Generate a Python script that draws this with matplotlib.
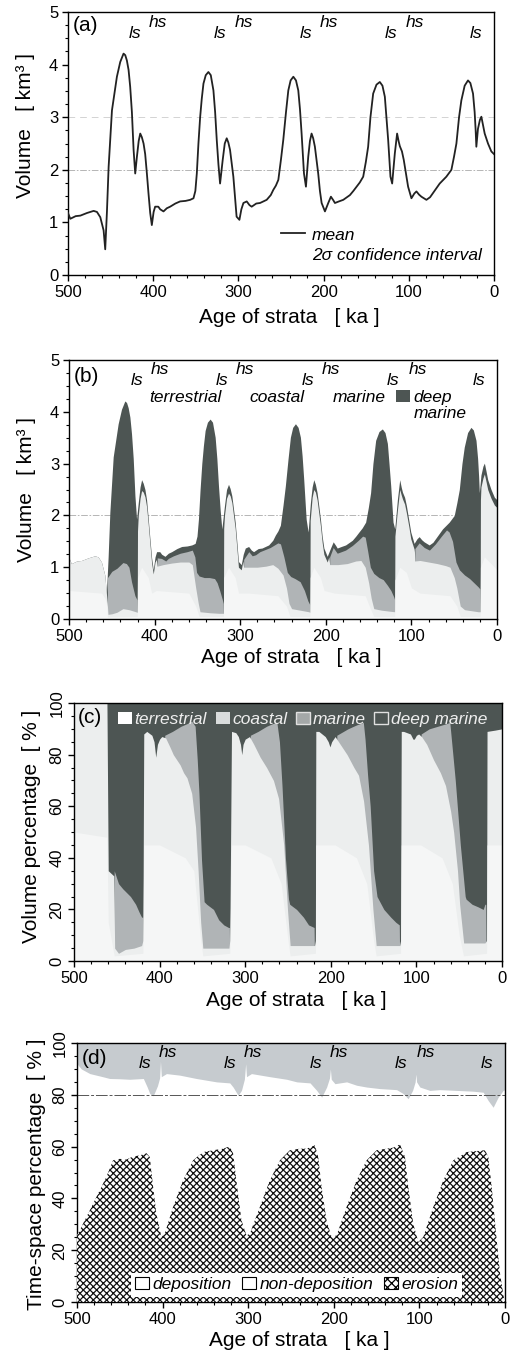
import numpy as np
import matplotlib
matplotlib.use('Agg')
import matplotlib.pyplot as plt
from matplotlib.patches import Patch
from matplotlib.lines import Line2D
from matplotlib.ticker import MultipleLocator

plt.rcParams['font.family'] = ['Liberation Sans', 'DejaVu Sans']
plt.rcParams['hatch.linewidth'] = 0.9

# ---- data (age in ka, value) ----
# (a) mean volume [km3]
mean_a = [(500, 1.18), (497.3, 1.07), (491, 1.12), (485.5, 1.13), (477.7, 1.18), (469.9, 1.22),
          (466.0, 1.20), (462.1, 1.10), (458.2, 0.85), (456.3, 0.49), (454.3, 1.2), (452.3, 2.06),
          (448.4, 3.13), (442.6, 3.77), (438.7, 4.05), (434.8, 4.21), (432.8, 4.18), (430.9, 4.08),
          (428.9, 3.9), (427.0, 3.58), (425.0, 3.1), (423.0, 2.38), (421.1, 1.93), (419.1, 2.25),
          (417.0, 2.55), (415.2, 2.69), (413.3, 2.62), (411.3, 2.50), (409.4, 2.3), (407.4, 1.93),
          (405.5, 1.55), (403.5, 1.18), (401.6, 0.95), (399.5, 1.2), (397.7, 1.30), (394, 1.3),
          (391.8, 1.25), (387.9, 1.21), (384, 1.27), (380.1, 1.30), (374, 1.36), (368.4, 1.40),
          (362, 1.41), (356.6, 1.43), (352.7, 1.46), (350.5, 1.6), (348.8, 1.93), (346.9, 2.5),
          (344.9, 3.0), (343.0, 3.35), (341.0, 3.64), (338.3, 3.8), (335.2, 3.86), (332.4, 3.8),
          (329.3, 3.51), (327.3, 3.1), (325.4, 2.57), (323.4, 2.1), (321.5, 1.74), (318.4, 2.19),
          (316, 2.5), (313.7, 2.60), (311.8, 2.52), (309.8, 2.38), (305.9, 1.87), (304, 1.5),
          (302.1, 1.11), (298.8, 1.05), (296.5, 1.25), (294.1, 1.37), (290.2, 1.40), (287, 1.33),
          (284.4, 1.30), (279, 1.36), (274.6, 1.37), (266.8, 1.43), (262, 1.52), (259.0, 1.62),
          (256, 1.7), (253.1, 1.81), (250.0, 2.2), (247.3, 2.57), (244.1, 3.1), (241.4, 3.51),
          (238.7, 3.7), (235.5, 3.77), (232.4, 3.7), (229.7, 3.51), (227.7, 3.15), (225.8, 2.69),
          (223.0, 1.93), (220.7, 1.68), (218.0, 2.25), (216, 2.55), (214.1, 2.69), (212.2, 2.6),
          (210.2, 2.44), (206.3, 1.93), (204.3, 1.6), (202.3, 1.37), (198.4, 1.21), (194.5, 1.37),
          (191.4, 1.49), (188.5, 1.42), (186.7, 1.37), (182, 1.4), (176.9, 1.43), (169.1, 1.52),
          (165, 1.6), (161.3, 1.68), (157.5, 1.76), (153.5, 1.87), (150.4, 2.15), (147.7, 2.44),
          (145.0, 3.0), (141.8, 3.45), (137.9, 3.62), (134.0, 3.67), (130.9, 3.6), (128.1, 3.39),
          (126.2, 3.0), (124.2, 2.57), (121.5, 1.87), (119.5, 1.74), (116.4, 2.31), (113.7, 2.69),
          (112, 2.55), (110.5, 2.45), (108, 2.35), (105.9, 2.19), (103, 1.9), (100.8, 1.68),
          (96.9, 1.46), (93.5, 1.55), (91.0, 1.59), (88, 1.53), (85.2, 1.49), (79.3, 1.43),
          (75, 1.48), (71.5, 1.56), (63.7, 1.74), (55.9, 1.87), (50.0, 2.00), (46.9, 2.25),
          (44.1, 2.50), (41.0, 3.0), (38.3, 3.32), (34.4, 3.6), (30.5, 3.70), (27.7, 3.65),
          (24.6, 3.45), (22.7, 3.1), (21.5, 2.75), (20.7, 2.44), (18.8, 2.78), (16.5, 2.95),
          (14.8, 3.01), (12.8, 2.85), (10.9, 2.69), (7.0, 2.50), (3.1, 2.35), (0, 2.30)]

# (b) cumulative tops of the facies volumes [km3]; deep marine tops out at mean_a
terr_b = [(500, 0.55), (462, 0.5), (458, 0.4), (456.3, 0.3), (455, 0.04), (420.3, 0.05), (420.0, 0.8),
          (415.2, 1.0), (407.4, 0.8), (403.5, 0.5), (398, 0.55), (360, 0.5), (352, 0.25), (348, 0.05),
          (319.6, 0.05), (319.3, 0.8), (313.7, 1.0), (305.9, 0.8), (302, 0.5), (290, 0.5), (256, 0.45),
          (246, 0.25), (242, 0.05), (218.6, 0.05), (218.3, 0.8), (214.1, 1.0), (206.3, 0.8), (202, 0.55),
          (190, 0.5), (154, 0.45), (148, 0.2), (144, 0.05), (119.6, 0.05), (119.3, 0.75), (113.7, 1.0),
          (105.9, 0.9), (100, 0.6), (90, 0.5), (55, 0.45), (47, 0.25), (43, 0.05), (19.7, 0.05),
          (19.4, 1.0), (14.8, 1.2), (0, 0.95)]
coast_b = [(500, 1.18), (497.3, 1.07), (491, 1.12), (485.5, 1.13), (477.7, 1.18), (469.9, 1.22),
           (466.0, 1.20), (462.1, 1.10), (458.2, 0.85), (456.3, 0.49), (455.3, 0.3), (454.5, 0.09),
           (450, 0.10), (444, 0.13), (437, 0.20), (430, 0.18), (424, 0.15), (420.3, 0.13), (420.0, 1.7),
           (419.1, 2.0), (417.0, 2.33), (415.2, 2.48), (413.3, 2.45), (411.3, 2.36), (409.4, 2.17),
           (407.4, 1.82), (405.5, 1.45), (403.5, 1.08), (401.6, 0.87), (399.5, 1.1), (398, 1.15),
           (397, 1.02), (390, 1.05), (380, 1.08), (370, 1.1), (360, 1.1), (356, 1.05), (352, 0.6),
           (349, 0.3), (347, 0.14), (335, 0.12), (325, 0.11), (319.6, 0.11), (319.3, 1.75), (318.4, 2.0),
           (316, 2.33), (313.7, 2.43), (311.8, 2.38), (309.8, 2.25), (305.9, 1.75), (304, 1.38),
           (302.1, 1.0), (298.8, 0.95), (297, 1.12), (296, 1.0), (290, 1.0), (280, 1.0), (270, 1.02),
           (262, 1.05), (256, 0.98), (250, 0.85), (246, 0.6), (243, 0.3), (240, 0.2), (230, 0.17),
           (220, 0.14), (218.6, 0.13), (218.3, 1.9), (216, 2.35), (214.1, 2.5), (212.2, 2.45),
           (210.2, 2.3), (206.3, 1.8), (204.3, 1.48), (202.3, 1.25), (198.4, 1.1), (196.5, 1.2),
           (195.5, 1.05), (186, 1.05), (175, 1.07), (165, 1.12), (159, 1.13), (154, 1.0), (150, 0.7),
           (147, 0.4), (144, 0.2), (135, 0.17), (125, 0.15), (119.6, 0.14), (119.3, 1.6), (116.4, 2.1),
           (113.7, 2.5), (112, 2.4), (110.5, 2.32), (108, 2.22), (105.9, 2.05), (103, 1.78),
           (100.8, 1.55), (96.9, 1.35), (96.5, 1.3), (96, 1.12), (90, 1.13), (80, 1.1), (70, 1.07),
           (60, 1.03), (55, 1.0), (50, 0.8), (47, 0.6), (43, 0.25), (38, 0.18), (30, 0.16), (22, 0.14),
           (19.7, 0.14), (19.4, 2.3), (18.8, 2.55), (16.5, 2.72), (14.8, 2.8), (12.8, 2.65),
           (10.9, 2.5), (7.0, 2.33), (3.1, 2.2), (0, 2.15)]
marine_b = [(500, 0), (455.6, 0), (455.0, 0.8), (450, 0.92), (444, 0.98), (437, 1.09), (433, 1.07),
            (430, 1.0), (427, 0.72), (423, 0.45), (420.5, 0.37), (420.2, 0), (397.5, 0), (397, 1.18),
            (392, 1.17), (387, 1.12), (384, 1.17), (378, 1.22), (370, 1.27), (362, 1.3), (356, 1.33),
            (353, 1.2), (351, 0.9), (348, 0.83), (342, 0.8), (336, 0.8), (330, 0.78), (327, 0.7),
            (324, 0.55), (321, 0.38), (319.8, 0.3), (319.5, 0), (296.3, 0), (296, 1.15), (290, 1.3),
            (286, 1.22), (282, 1.24), (277, 1.3), (265, 1.38), (256, 1.47), (253, 1.45), (249, 1.2),
            (245, 0.9), (241, 0.82), (236, 0.78), (230, 0.72), (225, 0.55), (221, 0.35), (218.8, 0.28),
            (218.5, 0), (195.8, 0), (195.5, 1.2), (191.4, 1.38), (186.7, 1.27), (177, 1.33), (169, 1.42),
            (162, 1.52), (157, 1.6), (154, 1.58), (151, 1.3), (148, 1.0), (144, 0.88), (138, 0.8),
            (133, 0.76), (128, 0.65), (124, 0.55), (120.5, 0.42), (119.8, 0.38), (119.5, 0), (96.3, 0),
            (96, 1.36), (91, 1.47), (85, 1.38), (79, 1.33), (72, 1.45), (65, 1.6), (59, 1.72), (56, 1.68),
            (52, 1.5), (48, 1.1), (44, 0.95), (38, 0.85), (32, 0.78), (27, 0.7), (22, 0.62), (20, 0.58),
            (19.6, 0), (0, 0)]

# (c) cumulative tops of the volume percentages [%]; deep marine fills to 100
terr_c = [(500, 50), (461.5, 48), (460, 15), (453, 2), (419.5, 3), (418.5, 45), (400, 45), (370, 40),
          (360, 35), (352, 8), (349.5, 2), (318, 3), (316, 45), (300, 45), (270, 40), (258, 30), (250, 8),
          (247.5, 2), (218, 3), (217.5, 45), (195, 45), (170, 40), (158, 30), (150, 8), (147, 2),
          (118.5, 3), (117.7, 45), (95, 45), (70, 40), (58, 30), (50, 10), (45, 2), (18, 3), (17.5, 45),
          (0, 45)]
coast_c = [(500, 100), (461.5, 100), (460, 35), (453.5, 33), (452.5, 5), (448, 3), (440, 4.5), (430, 5),
           (421, 6), (419.5, 8), (418.5, 88), (415, 89), (409, 87.5), (406.5, 85), (404.5, 79),
           (402.5, 84), (400, 86), (397.5, 87), (393, 86.5), (388, 83), (384, 80), (380, 78), (376, 76),
           (372, 73), (368, 71), (362.5, 65), (358, 52), (355, 35), (352, 15), (349.5, 5), (340, 5),
           (330, 5), (319, 5), (318, 8), (316, 89), (311, 88.5), (308, 87), (305.5, 84), (304, 80),
           (302.5, 84), (300, 86), (295, 87), (290, 84), (282.5, 79), (275, 75), (267, 70), (261, 63),
           (255, 45), (250.6, 20), (247.5, 6), (235, 6), (225, 6), (219, 6), (218, 8), (217.5, 89),
           (214, 89), (206.5, 87), (203, 85), (201, 83), (199, 85), (195, 87), (189, 84), (181, 80),
           (173, 75), (167.6, 72), (161.7, 62), (156, 45), (150.8, 20), (147, 6), (135, 6), (125, 6),
           (119.6, 6), (118.5, 8), (117.7, 89), (115, 89), (107, 88), (104, 86), (102.5, 86), (100, 87.5),
           (97.4, 88), (94, 87), (88, 84), (80, 78), (72, 73), (66, 68), (60, 58), (56.5, 50), (52, 35),
           (49.5, 22), (44.8, 7), (35, 7), (25, 7), (20, 7), (18, 8), (17.5, 89), (8, 89.5), (0, 90)]
marine_c = [(500, 0), (454, 0), (453, 35), (448, 30), (443, 28), (440, 27), (434, 25), (428, 22), (424, 19),
            (421, 17), (419.5, 17), (419, 0), (395, 0), (394, 87.5), (385, 89), (375, 91), (368, 92),
            (362.5, 93), (358.5, 91), (356, 78), (354, 65), (351, 39), (348, 23), (345, 22), (337, 20),
            (331, 16), (325, 14), (319.5, 13), (318.5, 13), (318, 0), (295, 0), (294, 87.5), (285, 89),
            (275, 91), (268, 92), (263, 92.5), (260, 85), (257, 68), (253, 40), (249.4, 24), (248, 22),
            (240, 20), (232, 17), (226, 14), (219.5, 13), (219, 0), (194, 0), (193, 87.5), (180, 90),
            (170, 91.5), (162, 92.5), (160, 86), (157, 72), (154, 60), (150, 35), (146, 25), (138, 20),
            (130, 17), (124, 15), (120, 14), (119.5, 0), (95, 0), (94.5, 88), (85, 90), (75, 91), (65, 92),
            (61, 92.5), (58, 82), (54.6, 70), (48.7, 45), (43, 25), (42, 24), (35, 22), (28, 21), (22, 20),
            (20, 22), (19, 22), (18.5, 0), (0, 0)]

# (d) time-space percentages [%]: erosion top, non-deposition top (deposition above)
erosion_d = [(500, 25.7), (489, 32.8), (477.4, 40.5), (465.7, 48.3), (457.9, 54.7), (450.1, 55.3),
             (442.3, 55), (434.5, 56.2), (426.7, 56.6), (419, 57.5), (415, 56), (411.1, 44.5), (407.2, 34),
             (401.4, 25), (397.5, 26.4), (387.8, 36.7), (376.1, 47), (364.4, 54.7), (352.7, 57.9),
             (341, 58.6), (329.3, 59.2), (321.5, 60.1), (317.6, 57.3), (312.9, 44.4), (307.9, 31.5),
             (302, 25.7), (298.1, 26.4), (286.4, 36.7), (274.7, 47), (263, 54.7), (251.4, 58.6),
             (239.7, 59.2), (231.9, 59.2), (222.1, 60.5), (218.2, 56), (214.3, 44.4), (208.5, 31.5),
             (202.6, 25.1), (196.8, 25.7), (185.1, 36.7), (173.4, 47), (161.7, 54.7), (150, 58.6),
             (138.3, 59.2), (130.5, 59.6), (122.7, 60.9), (116.9, 56), (113, 44.4), (107.2, 30.2),
             (101.3, 23.2), (95.5, 25.1), (83.8, 36.7), (72.1, 47), (60.4, 54.7), (44.8, 57.9),
             (33.1, 58.3), (23.4, 58.6), (19.5, 56), (15.6, 44.4), (9.7, 23.8), (5.8, 10.9), (1.2, 1.3),
             (0, 0)]
nondep_d = [(500, 92), (495, 90), (485, 88.2), (470, 87), (461.8, 86.3), (450, 86.2), (438.4, 86),
            (422.5, 86.3), (418, 83), (415, 80.5), (411, 79.6), (406, 83.5), (403.5, 86.5), (402.5, 93),
            (401.5, 87), (395.5, 88.2), (380, 87.6), (360.5, 86.3), (337, 85), (321.6, 84.6), (317.7, 83),
            (311.8, 79.8), (307.9, 81.7), (304.5, 86), (303, 92), (302, 87), (296.2, 88.2), (274.7, 87),
            (255, 86), (243.3, 85), (227.8, 84.6), (220, 81.7), (214.2, 79.1), (208.4, 83), (205, 86.5),
            (204, 90), (203, 86), (198.7, 84.3), (185, 85), (173.4, 83.7), (161.7, 83), (146.2, 82.4),
            (126.7, 82), (119, 80.5), (113.2, 78.5), (108, 81.7), (105, 85), (104.2, 88), (103.3, 85),
            (99.5, 83), (87.8, 81.7), (76.2, 82), (56.7, 81.7), (37.2, 81.4), (25.5, 81), (19.7, 77.8),
            (13.9, 75.2), (8, 79.1), (2.2, 81.7), (0, 82)]

# lowstand / highstand marker ages
ls_age = [421, 321, 221, 121, 21]
hs_age = [394, 294, 194, 93]

# colours
c_terr = '#f5f6f6'
c_coast = '#eceeee'
c_marine = '#b0b4b6'
c_deep = '#4d5553'
c_dep = '#c6cbcf'


def xy(pairs):
    a = np.array(pairs, dtype=float)
    return a[:, 0], a[:, 1]


def style(ax, ymax, ymajor, yminor, xlabel_y, ylabel_x, ylabel_y, ylab, rot=False):
    ax.set_xlim(500, 0)
    ax.set_ylim(0, ymax)
    ax.xaxis.set_major_locator(MultipleLocator(100))
    ax.xaxis.set_minor_locator(MultipleLocator(20))
    ax.yaxis.set_major_locator(MultipleLocator(ymajor))
    ax.yaxis.set_minor_locator(MultipleLocator(yminor))
    ax.tick_params(which='major', direction='out', length=4, width=1, labelsize=12, pad=3)
    ax.tick_params(which='minor', direction='out', length=2.5, width=0.8)
    if rot:
        ax.tick_params(axis='y', labelrotation=90)
        for lab in ax.get_yticklabels():
            lab.set_va('center')
    for s in ax.spines.values():
        s.set_linewidth(1.0)
    ax.set_xlabel('Age of strata   [ ka ]', fontsize=15)
    ax.xaxis.set_label_coords(0.52, xlabel_y)
    ax.set_ylabel(ylab, fontsize=15)
    ax.yaxis.set_label_coords(ylabel_x, ylabel_y)


def stage_labels(ax, y_ls, y_hs):
    for a in ls_age:
        ax.text(a, y_ls, 'ls', fontsize=12.5, style='italic', ha='center', va='center')
    for a in hs_age:
        ax.text(a, y_hs, 'hs', fontsize=12.5, style='italic', ha='center', va='center')


fig = plt.figure(figsize=(5.12, 13.53), dpi=100)

# ---------------- (a) ----------------
ax = fig.add_axes([0.1328, 0.7967, 0.832, 0.1944])
age, vol = xy(mean_a)
ax.axhline(2, color='#aaaaaa', lw=0.6, ls=(0, (8, 2, 2, 2)), zorder=1)
ax.axhline(3, color='#cccccc', lw=0.6, ls=(0, (8, 6)), zorder=1)
ax.plot(age, vol, color='#222222', lw=1.3, zorder=3)
style(ax, 5, 1, 0.25, -0.125, -0.078, 0.57, 'Volume   [ km³ ]')
stage_labels(ax, 4.59, 4.81)
ax.text(0.012, 0.95, '(a)', transform=ax.transAxes, fontsize=15, va='center', ha='left')
ax.legend(handles=[Line2D([], [], color='#222222', lw=1.3),
                   Patch(facecolor='none', edgecolor='none')],
          labels=['mean', '2σ confidence interval'], loc='lower right', frameon=False,
          prop={'style': 'italic', 'size': 12.5}, handlelength=1.4, handletextpad=0.4,
          labelspacing=0.3, borderaxespad=0.3)

# ---------------- (b) ----------------
ax = fig.add_axes([0.1348, 0.5425, 0.836, 0.1914])
ax.fill_between(age, 0, vol, color=c_deep, lw=0, zorder=2)
a2, v2 = xy(marine_b)
ax.fill_between(a2, 0, v2, color=c_marine, lw=0, zorder=2)
a2, v2 = xy(coast_b)
ax.fill_between(a2, 0, v2, color=c_coast, lw=0, zorder=2)
a2, v2 = xy(terr_b)
ax.fill_between(a2, 0, v2, color=c_terr, lw=0, zorder=2)
ax.axhline(2, color='#aaaaaa', lw=0.6, ls=(0, (8, 2, 2, 2)), zorder=1)
style(ax, 5, 1, 0.25, -0.112, -0.077, 0.5, 'Volume   [ km³ ]')
stage_labels(ax, 4.61, 4.82)
ax.text(0.012, 0.936, '(b)', transform=ax.transAxes, fontsize=15, va='center', ha='left')
ax.legend(handles=[Patch(facecolor='none', edgecolor='none'),
                   Patch(facecolor='none', edgecolor='none'),
                   Patch(facecolor='none', edgecolor='none'),
                   Patch(facecolor=c_deep, edgecolor='none')],
          labels=['terrestrial', 'coastal', 'marine', 'deep'], ncol=4,
          loc='upper center', bbox_to_anchor=(0.521, 0.912), frameon=False,
          prop={'style': 'italic', 'size': 12.5}, handlelength=0.8, handletextpad=0.2,
          columnspacing=0.6, borderaxespad=0.0)
ax.text(97.5, 3.97, 'marine', fontsize=12.5, style='italic', ha='left', va='center')

# ---------------- (c) ----------------
ax = fig.add_axes([0.1445, 0.2897, 0.836, 0.1907])
ax.fill_between([0, 500], 0, 100, color=c_deep, lw=0, zorder=1)
a2, v2 = xy(marine_c)
ax.fill_between(a2, 0, v2, color=c_marine, lw=0, zorder=2)
a2, v2 = xy(coast_c)
ax.fill_between(a2, 0, v2, color=c_coast, lw=0, zorder=2)
a2, v2 = xy(terr_c)
ax.fill_between(a2, 0, v2, color=c_terr, lw=0, zorder=2)
style(ax, 100, 20, 5, -0.116, -0.077, 0.52, 'Volume percentage  [ % ]', rot=True)
ax.text(0.008, 0.943, '(c)', transform=ax.transAxes, fontsize=15, va='center', ha='left', zorder=5)
leg = ax.legend(handles=[Patch(facecolor='white', edgecolor='none'),
                         Patch(facecolor='#d9dcdc', edgecolor='none'),
                         Patch(facecolor='#a4a8a8', edgecolor='#e0e0e0'),
                         Patch(facecolor=c_deep, edgecolor='#e0e0e0')],
                labels=['terrestrial', 'coastal', 'marine', 'deep marine'], ncol=4,
                loc='upper center', bbox_to_anchor=(0.534, 1.0), frameon=False,
                prop={'style': 'italic', 'size': 12.5}, handlelength=0.8, handletextpad=0.15,
                columnspacing=0.5, borderaxespad=0.1)
for t in leg.get_texts():
    t.set_color('#eeeeee')
leg.set_zorder(6)

# ---------------- (d) ----------------
ax = fig.add_axes([0.1504, 0.0377, 0.836, 0.1914])
ax.fill_between([0, 500], 0, 100, color=c_dep, lw=0, zorder=1)
a2, v2 = xy(nondep_d)
ax.fill_between(a2, 0, v2, color='white', lw=0, zorder=2)
a2, v2 = xy(erosion_d)
ax.fill_between(a2, 0, v2, facecolor='white', edgecolor='#111111', hatch='xxxxx', lw=0, zorder=3)
ax.axhline(80, color='#555555', lw=0.7, ls=(0, (12, 2, 3, 2)), zorder=2.5)
style(ax, 100, 20, 5, -0.112, -0.072, 0.495, 'Time-space percentage  [ % ]', rot=True)
stage_labels(ax, 92, 96.5)
ax.text(0.01, 0.94, '(d)', transform=ax.transAxes, fontsize=15, va='center', ha='left')
leg = ax.legend(handles=[Patch(facecolor='white', edgecolor='black', lw=0.8),
                         Patch(facecolor='white', edgecolor='black', lw=0.8),
                         Patch(facecolor='white', edgecolor='black', lw=0.8, hatch='xxxx')],
                labels=['deposition', 'non-deposition', 'erosion'], ncol=3,
                loc='lower center', bbox_to_anchor=(0.513, 0.02), frameon=True, fancybox=False,
                prop={'style': 'italic', 'size': 12.5}, handlelength=0.8, handletextpad=0.2,
                columnspacing=0.6, borderpad=0.25, borderaxespad=0.0)
leg.get_frame().set_facecolor('white')
leg.get_frame().set_edgecolor('none')
leg.get_frame().set_alpha(1)
leg.set_zorder(6)

fig.savefig('out.png', dpi=100)
